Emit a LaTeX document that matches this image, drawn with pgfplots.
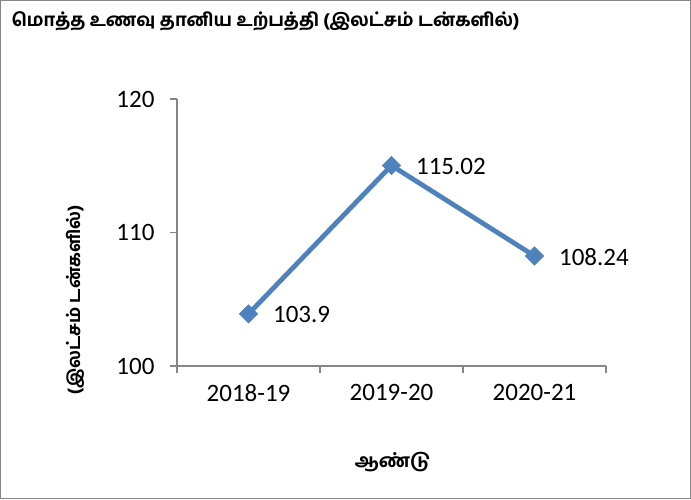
\documentclass[border=0pt]{standalone}
\usepackage{pgfplots}
\pgfplotsset{compat=1.18}
\usepackage{fontspec}
\setmainfont{Carlito}
\newfontfamily\tamil[Script=Tamil, BoldFont={Hind Madurai Bold}]{Hind Madurai}
\definecolor{lineblue}{HTML}{4F81BD}
\definecolor{axgray}{HTML}{868686}
\begin{document}
\begin{tikzpicture}[x=1pt,y=1pt]
\useasboundingbox (0,0) rectangle (691,499);
\draw[axgray, line width=1.2pt] (0.6,0.6) rectangle (690.4,498.4);
\node[anchor=west, font=\tamil\bfseries\fontsize{18.1}{20}\selectfont] at (8,478) {மொத்த உணவு தானிய உற்பத்தி (இலட்சம் டன்களில்)};
\node[rotate=90, font=\tamil\bfseries\fontsize{17.5}{20}\selectfont] at (75,199) {(இலட்சம் டன்களில்)};
\node[font=\tamil\bfseries\fontsize{18.5}{20}\selectfont] at (393,37) {ஆண்டு};
\begin{axis}[
  at={(177pt,133pt)}, anchor=south west,
  scale only axis, width=429pt, height=267pt,
  xmin=-0.5, xmax=2.5, ymin=100, ymax=120,
  axis x line=bottom, axis y line=left,
  axis line style={-, axgray, line width=1.3pt},
  xtick={0,1,2}, xticklabels={2018-19,2019-20,2020-21},
  minor xtick={-0.5,0.5,1.5,2.5},
  major x tick style={draw=none},
  minor x tick style={axgray, line width=1.3pt},
  ytick={100,110,120},
  y tick style={axgray, line width=1.3pt},
  tick align=outside,
  major tick length=7pt, minor tick length=7pt,
  ticklabel style={font=\fontsize{25}{30}\selectfont},
  /pgf/number format/assume math mode=true,
  xticklabel style={yshift=-8pt},
  yticklabel style={xshift=-12pt},
  clip=false,
  nodes near coords,
  point meta=explicit symbolic,
  every node near coord/.append style={anchor=west, xshift=21pt, yshift=-1pt, font=\fontsize{25}{30}\selectfont, text=black},
]
\addplot[color=lineblue, line width=4.8pt, mark=square*, mark size=6.5pt, mark options={rotate=45, fill=lineblue, draw=lineblue, line width=0.5pt}]
  coordinates {(0,103.9)[103.9] (1,115.02)[115.02] (2,108.24)[108.24]};
\end{axis}
\end{tikzpicture}
\end{document}
